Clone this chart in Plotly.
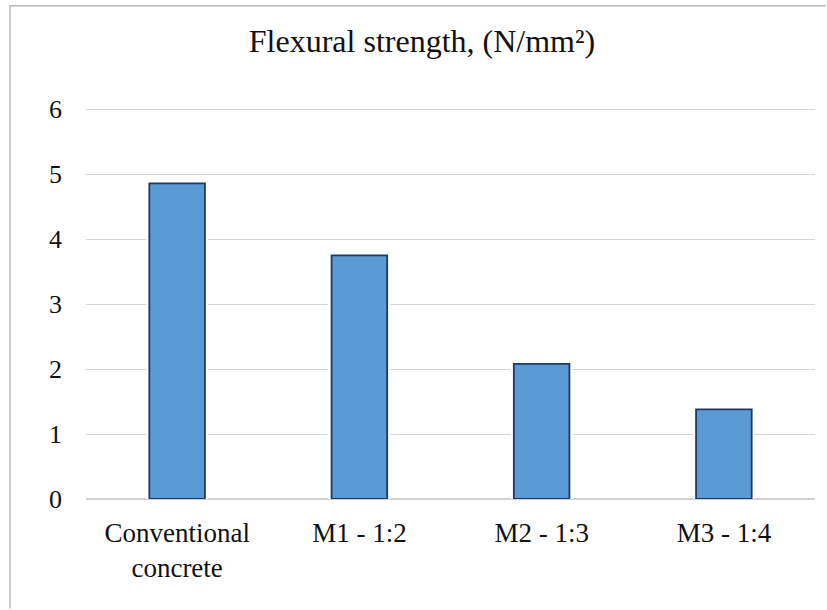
import plotly.graph_objects as go

categories = ["Conventional<br>concrete", "M1 - 1:2", "M2 - 1:3", "M3 - 1:4"]
flexural_strength = [4.86, 3.75, 2.08, 1.38]
y_ticks = [0, 1, 2, 3, 4, 5, 6]

FONT = "Liberation Serif, Times New Roman, serif"
TXT = "#111111"

fig = go.Figure()
# white halo behind bars (gap in gridlines next to bars, as in the source)
fig.add_trace(go.Bar(
    x=categories, y=flexural_strength, width=0.34,
    marker=dict(color="white", line=dict(width=0)), hoverinfo="skip",
))
fig.add_trace(go.Bar(
    x=categories, y=flexural_strength, width=0.305,
    marker=dict(color="#5B9BD5", line=dict(color="#1F3864", width=1.8)),
))

top = 108
bottom_px = 499
border_top_px = 5
fig.update_layout(
    width=827, height=610,
    margin=dict(l=86, r=12, t=top, b=610 - bottom_px),
    paper_bgcolor="white",
    plot_bgcolor="white",
    showlegend=False,
    barmode="overlay",
    title=dict(text="Flexural strength, (N/mm²)", xref="container", x=422 / 827,
               xanchor="center", yref="container", y=1 - 41 / 610, yanchor="middle",
               font=dict(family=FONT, size=32, color=TXT)),
    font=dict(family=FONT, size=27, color=TXT),
    xaxis=dict(range=[-0.5, 3.5], showgrid=False, showline=False, ticks="",
               ticklabelstandoff=15,
               tickfont=dict(family=FONT, size=27, color=TXT)),
    yaxis=dict(range=[0, 6.02], tickvals=y_ticks, showgrid=True, gridcolor="#D6D6D6",
               gridwidth=1.3, zeroline=True, zerolinecolor="#CFCFCF", zerolinewidth=2.2,
               showline=False, ticks="", ticklabelstandoff=23, layer="below traces",
               tickfont=dict(family=FONT, size=26, color=TXT)),
    shapes=[
        dict(type="rect", xref="paper", yref="paper",
             x0=(10 - 86) / 729, x1=(826 - 86) / 729,
             y0=1 + (top - border_top_px - 1.5) / (bottom_px - top),
             y1=1 + (top - border_top_px) / (bottom_px - top),
             fillcolor="#B8B8B8", line=dict(width=0), layer="above"),
        dict(type="line", xref="paper", yref="paper",
             x0=(10 - 86) / 729, x1=(10 - 86) / 729, y0=-0.28,
             y1=1 + (top - border_top_px) / (bottom_px - top),
             line=dict(color="#BDBDBD", width=1.5)),
    ],
)

fig.write_html("out.html", config={"displayModeBar": False},
               post_script="document.body.style.margin='0';"
                           "document.documentElement.style.overflow='hidden';"
                           "window.scrollTo(0,0);")
